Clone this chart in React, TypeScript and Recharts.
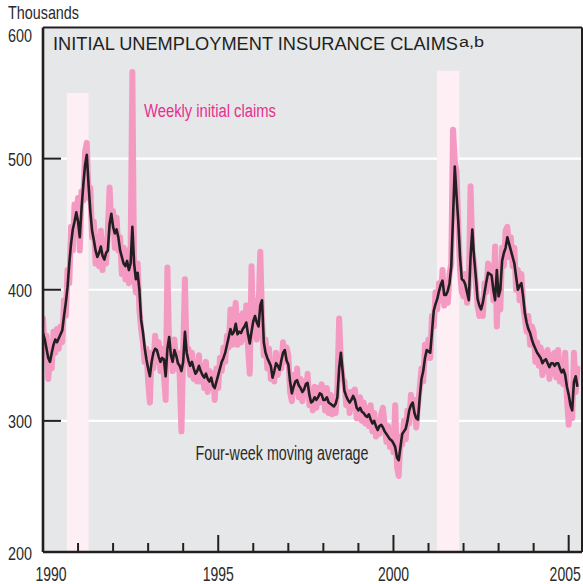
import React from 'react';
import { LineChart, Line, XAxis, YAxis, CartesianGrid, ReferenceArea, ReferenceLine } from 'recharts';

// Samples every 0.05 year (about every 2.6 weeks), starting January 1990
const START_YEAR = 1990;
const STEP_YEARS = 0.05;

// Weekly initial claims (thousands)
const weeklyClaims: number[] = [
  // 1990
  378, 352, 365, 332, 350, 340, 368, 352, 370, 355, 372, 360, 392, 380, 415, 405, 448, 430, 465, 450,
  // 1991
  470, 430, 475, 468, 505, 512, 470, 478, 440, 452, 420, 440, 418, 445, 415, 438, 420, 445, 478, 448,
  // 1992
  460, 432, 455, 430, 440, 412, 432, 408, 430, 405, 428, 566, 410, 398, 420, 385, 370, 360, 345, 355,
  // 1993
  330, 314, 352, 340, 365, 345, 360, 338, 355, 335, 316, 417, 355, 362, 338, 362, 340, 352, 335, 292,
  // 1994
  352, 408, 345, 355, 335, 352, 332, 345, 330, 350, 330, 342, 325, 345, 322, 338, 325, 336, 316, 340,
  // 1995
  325, 348, 338, 356, 345, 365, 356, 385, 358, 378, 390, 358, 380, 360, 382, 362, 388, 356, 336, 418,
  // 1996
  365, 392, 362, 385, 429, 378, 350, 362, 340, 355, 332, 345, 330, 352, 335, 348, 340, 360, 345, 356,
  // 1997
  350, 322, 315, 335, 322, 340, 318, 332, 315, 330, 320, 336, 312, 322, 308, 326, 310, 325, 314, 328,
  // 1998
  322, 308, 325, 306, 320, 305, 318, 306, 325, 378, 345, 332, 330, 312, 322, 306, 322, 310, 324, 302,
  // 1999
  302, 318, 300, 314, 298, 310, 296, 312, 292, 306, 288, 300, 290, 305, 310, 296, 284, 296, 280, 292,
  // 2000
  276, 312, 265, 258, 288, 282, 300, 286, 308, 298, 320, 305, 316, 295, 312, 325, 340, 330, 358, 348,
  // 2001
  362, 348, 380, 372, 398, 385, 405, 392, 415, 388, 405, 390, 412, 420, 522, 498, 490, 450, 415, 398,
  // 2002
  395, 412, 390, 402, 479, 430, 420, 405, 388, 380, 392, 380, 405, 398, 420, 405, 418, 392, 433, 372,
  // 2003
  410, 385, 432, 418, 445, 448, 425, 440, 418, 432, 400, 415, 392, 412, 388, 378, 368, 380, 358, 372,
  // 2004
  368, 345, 360, 342, 356, 335, 352, 338, 354, 332, 350, 336, 352, 333, 354, 330, 345, 328, 352, 318,
  // 2005
  297, 320, 302, 352, 322, 340,
];

// Four-week moving average (thousands)
const movingAverage: number[] = [
  // 1990
  367, 362, 355, 348, 345, 352, 358, 362, 360, 363, 366, 369, 380, 390, 402, 420, 435, 446, 452, 459,
  // 1991
  452, 440, 462, 480, 495, 503, 480, 460, 445, 438, 430, 425, 428, 433, 426, 423, 428, 430, 450, 458,
  // 1992
  448, 443, 446, 440, 430, 425, 420, 418, 422, 415, 420, 448, 420, 408, 413, 400, 377, 368, 356, 347,
  // 1993
  340, 334, 345, 352, 355, 354, 349, 345, 348, 347, 334, 355, 364, 350, 345, 354, 350, 344, 342, 338,
  // 1994
  345, 368, 352, 346, 342, 345, 340, 336, 338, 342, 338, 335, 333, 336, 332, 330, 333, 327, 325, 330,
  // 1995
  335, 340, 345, 348, 352, 358, 364, 370, 366, 368, 374, 366, 368, 367, 370, 372, 375, 366, 359, 368,
  // 1996
  376, 380, 375, 372, 388, 392, 360, 352, 348, 345, 342, 333, 338, 344, 342, 339, 346, 352, 354, 346,
  // 1997
  343, 330, 321, 326, 330, 331, 327, 325, 322, 324, 328, 329, 320, 314, 315, 318, 316, 318, 321, 320,
  // 1998
  316, 316, 318, 314, 313, 312, 311, 313, 318, 340, 352, 338, 323, 319, 316, 314, 316, 319, 316, 310,
  // 1999
  308, 310, 307, 306, 304, 303, 305, 301, 298, 300, 296, 293, 296, 297, 295, 292, 290, 288, 286, 285,
  // 2000
  283, 280, 272, 270, 280, 290, 292, 294, 300, 308, 312, 314, 306, 302, 301, 318, 332, 338, 348, 354,
  // 2001
  353, 352, 368, 384, 389, 393, 399, 404, 407, 396, 396, 399, 405, 418, 455, 494, 472, 452, 425, 408,
  // 2002
  407, 404, 398, 392, 425, 446, 425, 410, 393, 388, 385, 390, 398, 406, 413, 412, 411, 400, 392, 415,
  // 2003
  395, 400, 422, 428, 432, 440, 435, 430, 425, 420, 410, 400, 403, 405, 395, 382, 375, 370, 367, 362,
  // 2004
  358, 355, 352, 350, 348, 344, 346, 347, 344, 341, 344, 344, 342, 344, 344, 340, 337, 339, 335, 326,
  // 2005
  320, 312, 308, 330, 334, 326,
];

const yearTicks = [1990, 1991, 1992, 1993, 1994, 1995, 1996, 1997, 1998, 1999, 2000, 2001, 2002, 2003, 2004, 2005];
const labeledYears = [1990, 1995, 2000, 2005];
const valueTicks = [200, 300, 400, 500, 600];
const X_DOMAIN: [number, number] = [1990, 2005.38];
const Y_DOMAIN: [number, number] = [200, 600];

// Recession periods (shaded)
const recessionStarts = [1990.68, 2001.24];
const recessionEnds = [1991.3, 2001.88];
const recessionTops = [550, 567];

const rows = movingAverage.map((ma, i) => ({
  t: Math.round((START_YEAR + i * STEP_YEARS) * 100) / 100,
  ma,
  weekly: weeklyClaims[i],
}));

const INK = '#231f20';
const FONT = "'Liberation Sans', Arial, sans-serif";

const XTick = (props: any) => {
  const { x, y, payload } = props;
  const v = payload.value as number;
  const major = v % 5 === 0;
  const labeled = labeledYears.includes(v);
  const shift = v === 1990 ? 8 : v === 2005 ? -3.5 : 0;
  return (
    <g>
      {v !== 1990 && (
        <line x1={x} x2={x} y1={y} y2={y - (major ? 17 : 9)} stroke={INK} strokeWidth={2} />
      )}
      {labeled && (
        <text
          transform={`translate(${x + shift}, ${y + 28.5}) scale(0.7, 1)`}
          x={0}
          y={0}
          textAnchor="middle"
          fontSize={20}
          fontFamily={FONT}
          fill="#2a2a2a"
        >
          {v}
        </text>
      )}
    </g>
  );
};

const YTick = (props: any) => {
  const { x, y, payload } = props;
  const v = payload.value as number;
  const inner = v > 200 && v < 600;
  return (
    <g>
      {inner && <line x1={x} x2={x + 18} y1={y} y2={y} stroke={INK} strokeWidth={2} />}
      <text
        x={32}
        y={y + (v === 600 ? 14 : 7.5)}
        textAnchor="end"
        fontSize={18}
        fontFamily={FONT}
        fill="#2a2a2a"
        textLength={24}
        lengthAdjust="spacingAndGlyphs"
      >
        {v}
      </text>
    </g>
  );
};

export default function App() {
  return (
    <div style={{ position: 'absolute', left: 0, top: 0, width: 583, height: 584, background: '#fff' }}>
      <LineChart
        width={583}
        height={584}
        data={rows}
        margin={{ top: 27.5, right: 1, bottom: 0, left: 0 }}
      >
        <CartesianGrid
          vertical={false}
          horizontal={true}
          fill="#e6e7e8"
          stroke="#ffffff"
          strokeWidth={2.2}
        />
        {recessionStarts.map((s, i) => (
          <ReferenceArea
            key={i}
            x1={s}
            x2={recessionEnds[i]}
            y1={200}
            y2={recessionTops[i]}
            fill="#fdeff4"
            fillOpacity={1}
            stroke="none"
          />
        ))}
        <XAxis
          dataKey="t"
          type="number"
          domain={X_DOMAIN}
          ticks={yearTicks}
          interval={0}
          allowDataOverflow
          height={32}
          tickSize={0}
          tickMargin={0}
          tickLine={false}
          axisLine={{ stroke: INK, strokeWidth: 2.5 }}
          tick={<XTick />}
        />
        <YAxis
          type="number"
          domain={Y_DOMAIN}
          ticks={valueTicks}
          interval={0}
          allowDataOverflow
          width={43}
          tickSize={0}
          tickMargin={0}
          tickLine={false}
          axisLine={{ stroke: INK, strokeWidth: 2.6 }}
          tick={<YTick />}
        />
        <ReferenceLine y={600} stroke={INK} strokeWidth={2} ifOverflow="visible" />
        <ReferenceLine x={X_DOMAIN[1]} stroke={INK} strokeWidth={2} ifOverflow="visible" />
        <Line
          dataKey="weekly"
          type="linear"
          stroke="#f49ac2"
          strokeWidth={6}
          strokeLinejoin="round"
          strokeLinecap="round"
          dot={false}
          activeDot={false}
          isAnimationActive={false}
        />
        <Line
          dataKey="ma"
          type="linear"
          stroke={INK}
          strokeWidth={2.6}
          strokeLinejoin="round"
          dot={false}
          activeDot={false}
          isAnimationActive={false}
        />
      </LineChart>
      <svg
        width={583}
        height={584}
        style={{ position: 'absolute', left: 0, top: 0, pointerEvents: 'none' }}
      >
        <text x={8} y={18.5} fontSize={18.5} fontFamily={FONT} fill="#2a2a2a" textLength={71} lengthAdjust="spacingAndGlyphs">
          Thousands
        </text>
        <text x={53} y={50} fontSize={17.7} fontFamily={FONT} fill={INK} textLength={405} lengthAdjust="spacingAndGlyphs">
          INITIAL UNEMPLOYMENT INSURANCE CLAIMS
        </text>
        <text x={459} y={46.5} fontSize={14} fontFamily={FONT} fill={INK} textLength={25} lengthAdjust="spacingAndGlyphs">
          a,b
        </text>
        <text x={144} y={117} fontSize={18} fontFamily={FONT} fill="#e8308f" textLength={132} lengthAdjust="spacingAndGlyphs">
          Weekly initial claims
        </text>
        <text x={195.5} y={460} fontSize={20.5} fontFamily={FONT} fill="#2a2a2a" textLength={173} lengthAdjust="spacingAndGlyphs">
          Four-week moving average
        </text>
      </svg>
    </div>
  );
}
